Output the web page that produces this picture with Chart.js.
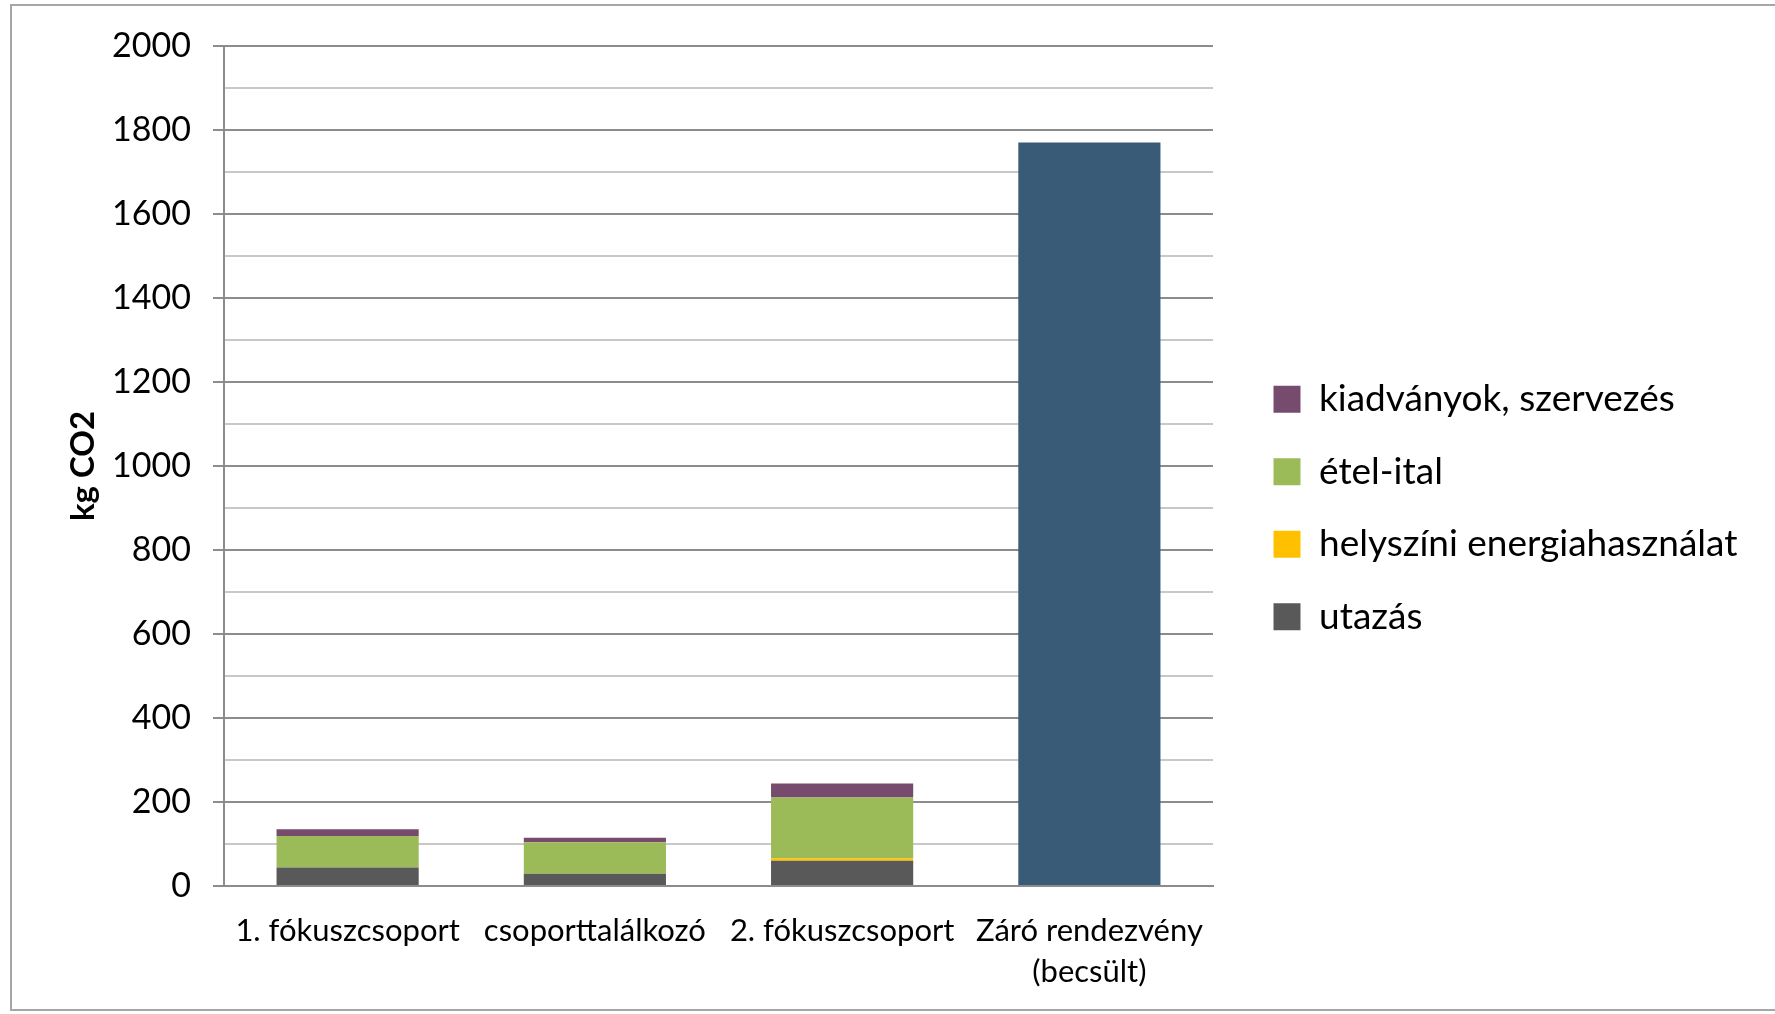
<!DOCTYPE html>
<html>
<head>
<meta charset="utf-8">
<script src="https://cdn.jsdelivr.net/npm/chart.js@4.4.1/dist/chart.umd.min.js"></script>
<style>
  html, body { margin: 0; padding: 0; background: #fff; }
  #wrap { position: relative; width: 1775px; height: 1014px; overflow: hidden; }
  #frame { position: absolute; left: 10px; top: 4px; width: 1800px; height: 1007px; border: 2px solid #a6a6a6; box-sizing: border-box; }
  #chartBox { position: absolute; left: 0; top: 0; width: 1775px; height: 1014px; }
</style>
</head>
<body>
<div id="wrap">
  <div id="frame"></div>
  <div id="chartBox"><canvas id="co2Chart"></canvas></div>
</div>
<script>
// Data
const categories = ['1. fókuszcsoport', 'csoporttalálkozó', '2. fókuszcsoport', ['Záró rendezvény', '(becsült)']];
const utazas = [44, 29, 60, null];
const energia = [0, 0, 6, null];
const etelItal = [75, 75, 145, null];
const kiadvanyok = [16, 11, 33, null];
const zaroBecsult = [null, null, null, 1770];

const yMin = 0;
const yMax = 2000;
const yStep = 100;

const FONT = 'Lato, "Open Sans", sans-serif';

// Excel keeps a wider gap between plot and legend than Chart.js does,
// so move the legend a little after layout (and let it use the free space on the right)
const legendShift = {
    id: 'legendShift',
    afterLayout(chart) {
        const lg = chart.legend;
        if (!lg) return;
        lg.left += 25;
        lg.right = chart.width;
        lg.width = lg.right - lg.left;
        lg.top -= 22;
        lg.bottom -= 22;
    }
};

function isMajor(c) {
    return c.tick && c.tick.value % 200 === 0;
}

function createCo2Chart() {
    const ctx = document.getElementById('co2Chart').getContext('2d');

    const seriesConfig = [
        { label: 'utazás', data: utazas, color: '#595959' },
        { label: 'helyszíni energiahasználat', data: energia, color: '#ffc000' },
        { label: 'étel-ital', data: etelItal, color: '#9bbb59' },
        { label: 'kiadványok, szervezés', data: kiadvanyok, color: '#764b6e' },
        { label: 'Záró rendezvény (becsült)', data: zaroBecsult, color: '#3a5b78' }
    ];

    const datasets = seriesConfig.map(s => ({
        label: s.label,
        data: s.data,
        backgroundColor: s.color,
        borderWidth: 0,
        barPercentage: 0.575,
        categoryPercentage: 1.0,
        stack: 'total'
    }));

    new Chart(ctx, {
        type: 'bar',
        data: { labels: categories, datasets },
        options: {
            responsive: true,
            maintainAspectRatio: false,
            animation: false,
            layout: {
                padding: { left: 0, top: 46, right: 162, bottom: 0 }
            },
            scales: {
                x: {
                    stacked: true,
                    grid: { display: false },
                    border: { display: true, color: '#8c8c8c', width: 2 },
                    ticks: {
                        color: '#000',
                        padding: 17,
                        maxRotation: 0,
                        autoSkip: false,
                        font: { family: FONT, size: 31, lineHeight: 1.32 }
                    },
                    afterFit: scale => { scale.height = 128; }
                },
                y: {
                    stacked: true,
                    min: yMin,
                    max: yMax,
                    title: {
                        display: true,
                        text: 'kg CO2',
                        color: '#000',
                        font: { family: FONT, size: 33, weight: 'bold' },
                        padding: { top: 64, bottom: 0 }
                    },
                    border: { display: true, color: '#8c8c8c', width: 2 },
                    grid: {
                        lineWidth: 2,
                        tickLength: 11,
                        color: c => isMajor(c) ? '#8c8c8c' : '#c8c8c8',
                        tickColor: c => isMajor(c) ? '#8c8c8c' : 'rgba(0,0,0,0)'
                    },
                    ticks: {
                        stepSize: yStep,
                        autoSkip: false,
                        color: '#000',
                        padding: 22,
                        font: { family: FONT, size: 34 },
                        callback: v => (v % 200 === 0 ? String(v) : '')
                    },
                    afterFit: scale => { scale.width = 224; }
                }
            },
            plugins: {
                legend: {
                    position: 'right',
                    reverse: true,
                    maxWidth: 400,
                    labels: {
                        color: '#000',
                        boxWidth: 27,
                        boxHeight: 27,
                        padding: 35.5,
                        font: { family: FONT, size: 37 },
                        filter: item => item.datasetIndex < 4
                    }
                },
                tooltip: { enabled: true }
            }
        },
        plugins: [legendShift]
    });
}

createCo2Chart();
</script>
</body>
</html>
